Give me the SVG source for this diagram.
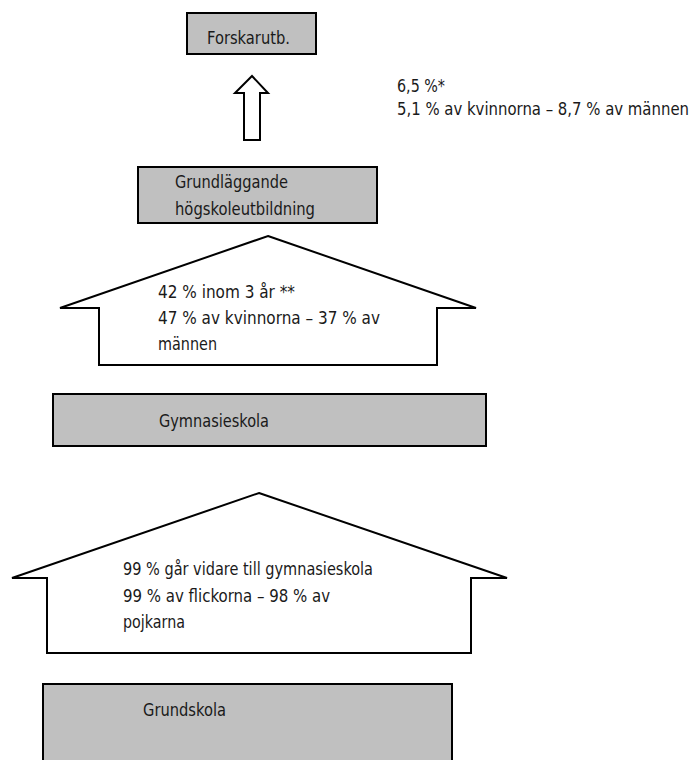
<svg xmlns="http://www.w3.org/2000/svg" width="696" height="760" viewBox="0 0 696 760">
<style>
.box{fill:#c0c0c0;stroke:#000;stroke-width:2}
.shape{fill:#fff;stroke:#000;stroke-width:2;stroke-linejoin:miter}
text{font-family:"DejaVu Sans Condensed","Liberation Sans",sans-serif;font-stretch:condensed;font-size:18px;fill:#1a1a1a}
</style>
<rect width="696" height="760" fill="#fff"/>
<g id="forskarutb">
<rect class="box" x="187" y="13" width="129" height="41"/>
<text x="207" y="44" textLength="83" lengthAdjust="spacingAndGlyphs">Forskarutb.</text>
</g>
<g id="grundlaggande">
<rect class="box" x="138" y="167" width="239" height="56"/>
<text x="175" y="188" textLength="113" lengthAdjust="spacingAndGlyphs">Grundläggande</text>
<text x="175" y="215" textLength="140" lengthAdjust="spacingAndGlyphs">högskoleutbildning</text>
</g>
<g id="gymnasieskola">
<rect class="box" x="53" y="394" width="433" height="52"/>
<text x="159" y="427" textLength="110" lengthAdjust="spacingAndGlyphs">Gymnasieskola</text>
</g>
<g id="grundskola">
<rect class="box" x="43" y="684" width="409" height="90"/>
<text x="143" y="716" textLength="83" lengthAdjust="spacingAndGlyphs">Grundskola</text>
</g>
<g id="connectors">
<polygon class="shape" points="252,76 268,93 260,93 260,140 244,140 244,93 235,93"/>
<polygon class="shape" points="268,236 476,308 437,308 437,365 99,365 99,308 60,308"/>
<polygon class="shape" points="259,493 507,578 471,578 471,653 47,653 47,578 12,578"/>
</g>
<g id="labels">
<text x="397" y="92" textLength="48" lengthAdjust="spacingAndGlyphs">6,5 %*</text>
<text x="397" y="115" textLength="292" lengthAdjust="spacingAndGlyphs">5,1 % av kvinnorna – 8,7 % av männen</text>
<text x="158" y="298" textLength="137" lengthAdjust="spacingAndGlyphs">42 % inom 3 år **</text>
<text x="158" y="324" textLength="222" lengthAdjust="spacingAndGlyphs">47 % av kvinnorna – 37 % av</text>
<text x="158" y="350" textLength="59" lengthAdjust="spacingAndGlyphs">männen</text>
<text x="123" y="575" textLength="250" lengthAdjust="spacingAndGlyphs">99 % går vidare till gymnasieskola</text>
<text x="123" y="602" textLength="207" lengthAdjust="spacingAndGlyphs">99 % av flickorna – 98 % av</text>
<text x="123" y="628" textLength="62" lengthAdjust="spacingAndGlyphs">pojkarna</text>
</g>
</svg>
